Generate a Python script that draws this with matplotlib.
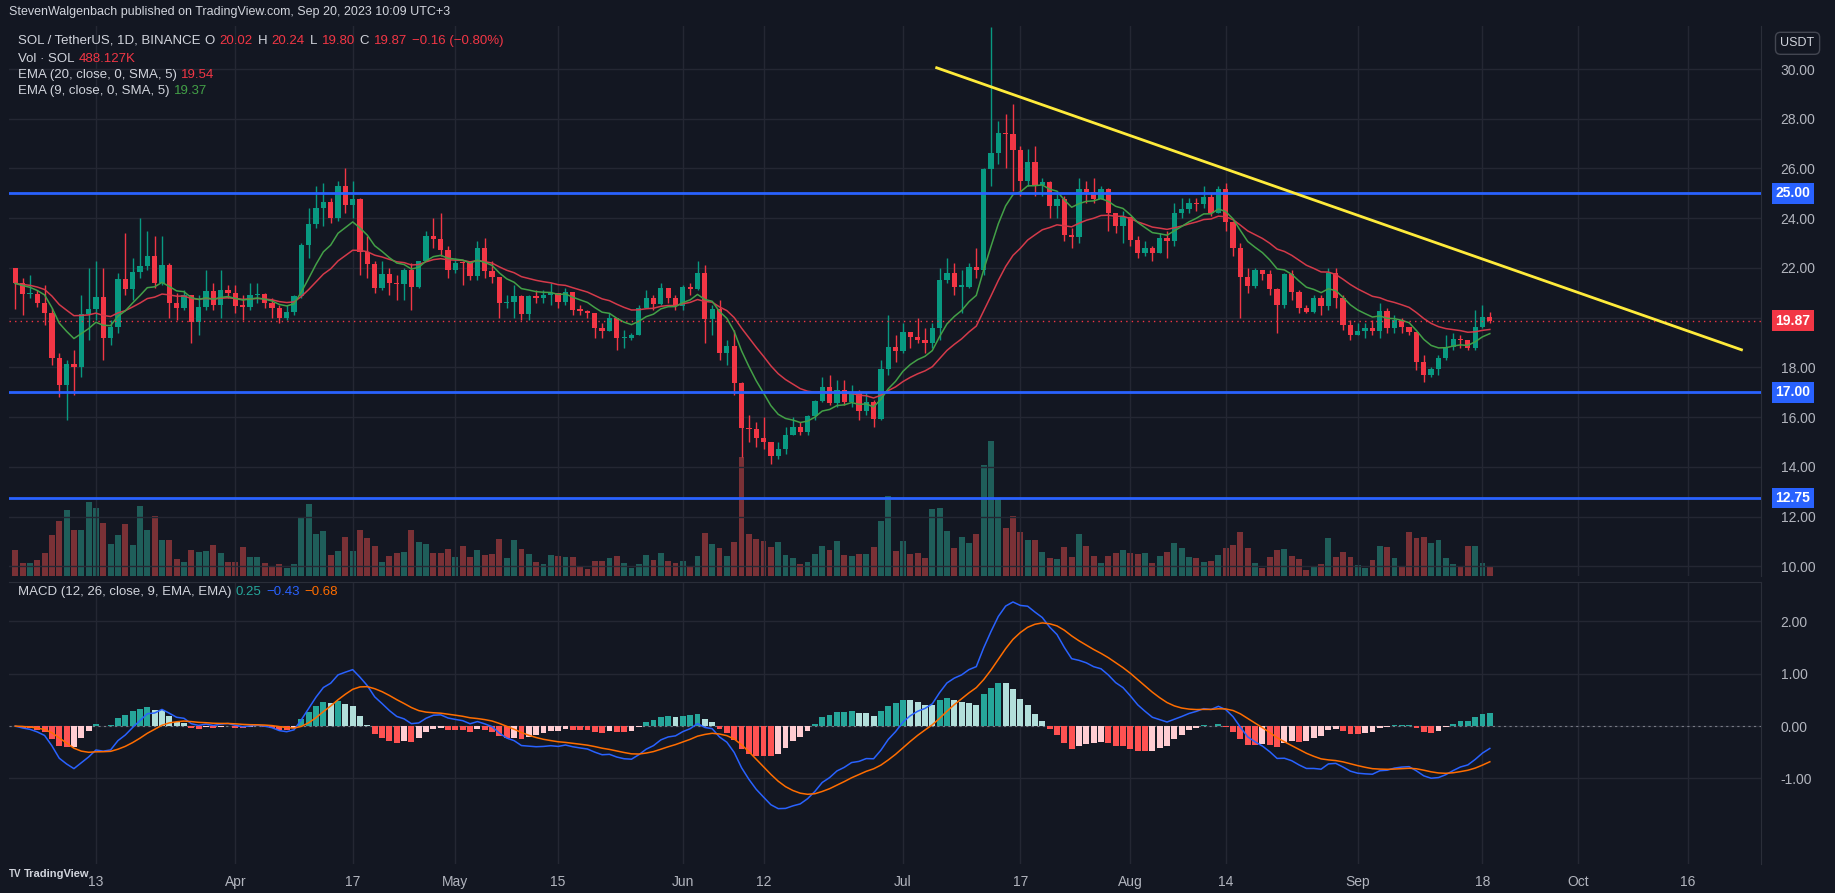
import matplotlib
matplotlib.use("Agg")
import matplotlib.pyplot as plt
import matplotlib.transforms as mtransforms
import numpy as np
import pandas as pd

# ---------------- data (daily candles from 2 Mar 2023, index = days) ----------------
first_open = 21.98
closes = [21.38,20.94,20.95,20.58,20.20,18.36,17.28,18.14,18.00,20.16,
          20.35,20.85,19.20,19.64,21.57,21.14,21.85,22.08,22.48,21.38,
          22.13,20.60,20.37,20.92,19.84,20.44,21.09,20.50,21.10,21.00,
          20.47,20.45,20.90,20.95,20.58,20.38,19.97,20.24,20.88,22.94,
          23.77,24.41,24.66,24.00,25.30,24.53,24.77,22.63,22.16,21.19,
          21.76,21.40,21.35,21.90,21.22,22.30,23.30,23.16,22.72,21.92,
          22.20,22.18,21.69,22.80,21.86,21.62,20.58,20.62,20.88,20.15,
          20.88,20.79,20.92,20.98,20.62,21.03,20.31,20.28,20.20,19.58,
          19.48,19.99,19.18,19.20,19.32,20.39,20.79,20.55,21.20,20.79,
          20.47,21.25,21.15,21.81,19.93,20.36,18.60,18.87,17.36,15.56,
          15.52,15.16,14.99,14.44,14.72,15.28,15.62,15.40,16.06,16.64,
          17.23,16.56,17.10,16.60,16.96,16.23,16.60,15.93,17.94,18.83,
          18.65,19.44,19.21,19.10,18.98,19.60,21.50,21.78,21.25,21.25,
          22.04,21.93,25.99,26.64,27.43,27.39,26.75,25.49,26.28,25.34,
          25.46,24.48,24.77,23.33,23.26,25.16,25.06,24.77,25.16,24.22,
          23.69,24.05,23.12,22.61,22.79,22.61,23.19,23.09,24.20,24.37,
          24.60,24.57,24.87,24.20,25.16,23.84,22.80,21.64,21.29,21.90,
          21.76,21.15,20.53,21.75,21.03,20.39,20.24,20.78,20.49,21.78,
          20.80,19.72,19.32,19.48,19.58,19.48,20.25,19.60,19.90,19.62,
          19.42,18.22,17.70,17.92,18.39,18.82,19.13,19.09,18.80,19.62,
          20.03,19.87]
highs = [22.0,21.6,21.7,21.1,21.3,20.4,18.6,18.3,18.7,20.9,
         22.0,22.3,22.0,19.9,21.8,23.4,22.4,24.0,23.5,23.3,
         23.3,22.2,21.0,21.1,20.9,20.9,21.9,21.4,21.9,21.3,
         21.3,20.9,21.4,21.4,21.0,20.8,20.5,20.5,20.9,23.0,
         24.4,25.3,25.4,24.8,25.5,26.0,25.5,24.8,23.3,22.3,
         22.3,22.0,21.7,22.0,22.2,22.3,23.5,24.0,24.2,22.9,
         22.4,22.3,22.2,23.1,23.2,22.3,21.6,20.9,21.3,20.9,
         20.9,21.1,21.1,21.4,21.0,21.2,21.0,20.5,20.3,20.2,
         19.8,20.2,20.0,19.5,19.4,20.5,21.1,20.9,21.4,21.2,
         20.9,21.3,21.4,22.3,22.1,20.5,20.7,19.1,19.5,17.4,
         16.1,15.8,16.0,15.0,15.0,15.6,16.0,15.8,16.1,16.7,
         17.6,17.7,17.5,17.5,17.3,17.1,17.0,16.7,18.3,20.1,
         19.3,19.8,19.4,20.0,19.6,19.8,22.0,22.4,22.2,21.9,
         22.2,22.8,26.0,31.7,27.9,28.2,28.6,26.9,26.8,26.9,
         25.6,25.5,25.0,24.9,23.6,25.6,25.5,25.6,25.3,25.2,
         24.2,24.3,24.0,23.3,23.1,22.9,23.4,23.5,24.6,24.8,
         24.8,24.8,25.3,25.0,25.3,25.4,23.9,23.0,22.0,22.0,
         21.9,21.9,21.2,21.8,21.9,21.1,20.5,20.9,20.9,22.0,
         22.0,20.9,19.9,19.8,19.8,19.9,20.6,20.4,20.1,20.0,
         19.6,19.4,18.5,18.0,18.5,19.3,19.4,19.3,19.1,20.3,
         20.5,20.24]
lows = [20.35,20.1,20.8,20.45,19.7,18.1,16.8,15.9,16.9,17.6,
        19.1,19.9,18.3,18.9,19.4,20.9,20.7,21.6,21.9,21.2,
        21.3,20.0,19.9,20.3,19.0,19.3,20.3,20.3,20.0,20.8,
        20.2,19.9,20.3,20.6,20.4,20.0,19.8,19.9,20.1,20.8,
        22.4,23.6,23.7,23.8,23.9,24.2,24.0,21.7,21.6,21.0,
        21.1,20.9,20.7,20.7,20.3,21.2,22.3,22.8,22.5,21.6,
        21.8,21.3,21.5,21.5,21.6,21.4,20.0,20.4,20.0,19.9,
        19.9,20.6,20.6,20.5,20.4,20.5,20.1,20.1,20.0,19.2,
        19.2,19.5,18.7,18.8,19.1,19.3,20.4,20.3,20.5,20.6,
        20.3,20.3,20.9,21.1,19.0,19.3,18.3,18.1,16.9,14.4,
        15.0,14.8,14.7,14.1,14.3,14.5,15.3,15.3,15.3,15.9,
        16.6,16.5,16.4,16.5,16.4,15.9,16.1,15.6,15.9,17.7,
        18.2,18.6,18.8,19.0,18.6,18.8,19.1,21.4,20.9,20.2,
        21.2,21.6,21.7,25.3,26.2,26.0,25.1,24.9,25.3,24.9,
        24.9,24.0,24.0,23.1,22.8,23.0,24.6,24.6,24.8,23.5,
        23.4,23.0,22.9,22.4,22.5,22.3,22.8,22.4,22.9,24.0,
        24.2,24.3,24.4,24.1,24.3,23.5,22.5,20.0,21.0,21.2,
        21.5,20.9,19.4,20.4,20.7,20.2,20.2,20.2,20.1,20.3,
        20.4,19.5,19.1,19.3,19.2,19.3,19.2,19.4,19.4,19.4,
        19.3,17.9,17.4,17.6,17.7,18.3,18.7,18.8,18.7,18.7,
        19.6,19.80]
volumes = [78,40,40,48,70,126,168,201,141,141,225,207,162,96,126,159,93,213,141,183,
           108,108,51,42,78,72,75,93,69,42,42,87,57,57,39,27,36,24,36,177,
           219,129,138,63,75,120,75,141,117,90,42,60,69,72,141,102,96,69,69,81,
           57,90,
           57,78,63,66,114,54,108,81,66,42,36,63,60,57,57,27,21,45,45,54,
           60,39,24,36,63,48,69,45,39,45,27,60,132,96,84,60,102,363,129,111,
           105,87,102,63,54,36,42,66,90,78,105,63,60,66,66,87,168,243,75,105,
           66,69,
           55,205,207,138,85,120,99,129,340,411,235,145,183,135,108,108,72,55,51,87,
           58,129,90,60,39,60,70,78,70,66,70,40,60,72,99,85,57,55,42,45,
           63,85,93,135,85,40,25,57,78,81,60,51,18,27,36,115,57,72,57,33,
           25,48,90,
           87,54,28,134,115,118,99,108,54,37,28,91,91,40,30]

tick_pos = [11, 30, 46, 60, 74, 91, 102, 121, 137, 152, 165, 183, 200, 213, 228]
tick_labels = ["13", "Apr", "17", "May", "15", "Jun", "12", "Jul", "17", "Aug", "14", "Sep", "18", "Oct", "16"]
price_ticks = [10, 12, 14, 16, 18, 22, 24, 26, 28, 30]
levels = [25.00, 17.00, 12.75]
last_price = 19.87
trend_x = [125.6, 235.3]
trend_y = [30.05, 18.71]

# ---------------- derived ----------------
n = len(closes)
x = np.arange(n)
c = np.array(closes)
o = np.array([first_open] + closes[:-1])
h = np.maximum(np.array(highs), np.maximum(o, c))
l = np.minimum(np.array(lows), np.minimum(o, c))
up = c >= o
s = pd.Series(c)
ema20 = s.ewm(span=20, adjust=False).mean().values
ema9 = s.ewm(span=9, adjust=False).mean().values
macd = (s.ewm(span=12, adjust=False).mean() - s.ewm(span=26, adjust=False).mean())
signal = macd.ewm(span=9, adjust=False).mean()
hist = (macd - signal).values
macd = macd.values
signal = signal.values

BG = "#131722"
GRID = "#242733"
TXT = "#b2b5be"
GREEN = "#089981"
RED = "#f23645"

W, H = 1568.0, 763.0
def rect(x0, y0, x1, y1):
    return [x0 / W, 1 - y1 / H, (x1 - x0) / W, (y1 - y0) / H]

plt.rcParams["font.family"] = "Liberation Sans"
fig = plt.figure(figsize=(18.35, 8.93), dpi=100, facecolor=BG)

xlim = (-0.8, 238)

axv = fig.add_axes(rect(8, 22, 1505, 492))
axv.set_facecolor(BG)
axv.bar(x[up], np.array(volumes)[up], width=0.8, color="#1f5e5a", zorder=2)
axv.bar(x[~up], np.array(volumes)[~up], width=0.8, color="#7a3136", zorder=2)
axv.set_ylim(0, 1680)
axv.set_xlim(*xlim)
axv.axis("off")

ax = fig.add_axes(rect(8, 22, 1505, 492))
ax.patch.set_alpha(0)
ax.set_xlim(*xlim)
ax.set_ylim(9.62, 31.74)
ax.set_yticks(price_ticks)
ax.set_yticks([20], minor=True)
ax.set_xticks(tick_pos)
ax.grid(True, which="both", color=GRID, lw=1, zorder=0)
ax.yaxis.tick_right()
ax.tick_params(axis="y", which="both", colors=TXT, length=0, pad=14, labelsize=10)
ax.tick_params(axis="x", length=0, labelbottom=False)
ax.yaxis.set_major_formatter(matplotlib.ticker.FormatStrFormatter("%.2f"))
ax.yaxis.set_minor_formatter(matplotlib.ticker.NullFormatter())
for sp in ax.spines.values():
    sp.set_visible(False)
ax.spines["right"].set_visible(True)
ax.spines["right"].set_color("#2a2e39")

ax.vlines(x, l, h, colors=np.where(up, GREEN, RED), lw=1, zorder=3)
body_lo = np.minimum(o, c)
body_h = np.maximum(np.abs(c - o), 0.05)
ax.bar(x, body_h, bottom=body_lo, width=0.72, color=np.where(up, GREEN, RED), zorder=4)
ax.plot(x, ema20, color="#d43a4a", lw=1.1, zorder=5)
ax.plot(x, ema9, color="#43a047", lw=1.1, zorder=5)
for lv in levels:
    ax.axhline(lv, color="#2962ff", lw=2, zorder=6)
ax.axhline(last_price, color=RED, lw=1, ls=(0, (1, 3)), zorder=6)
ax.plot(trend_x, trend_y, color="#ffeb3b", lw=2, zorder=7)

trans = mtransforms.blended_transform_factory(ax.transAxes, ax.transData)
for lv in levels:
    ax.text(1.008, lv, f"{lv:.2f}", transform=trans, color="white", fontsize=10, fontweight="bold",
            va="center", ha="left",
            bbox=dict(boxstyle="square,pad=0.25", fc="#2962ff", ec="none"))
ax.text(1.008, last_price, f"{last_price:.2f}", transform=trans, color="white", fontsize=10,
        fontweight="bold", va="center", ha="left",
        bbox=dict(boxstyle="square,pad=0.25", fc=RED, ec="none"))
fig.text(1536 / W, 1 - 37 / H, "USDT", color="#d1d4dc", fontsize=9, ha="center", va="center",
         bbox=dict(boxstyle="round,pad=0.4", fc=BG, ec="#434651"))

axm = fig.add_axes(rect(8, 497, 1505, 738))
axm.set_facecolor(BG)
axm.set_xlim(*xlim)
axm.set_ylim(-2.63, 2.76)
axm.set_yticks([-1, 0, 1, 2])
axm.set_xticks(tick_pos)
axm.set_xticklabels(tick_labels)
axm.grid(True, color=GRID, lw=1, zorder=0)
axm.yaxis.tick_right()
axm.tick_params(axis="y", colors=TXT, length=0, pad=14, labelsize=10)
axm.tick_params(axis="x", colors=TXT, length=0, pad=8, labelsize=10)
axm.yaxis.set_major_formatter(matplotlib.ticker.FormatStrFormatter("%.2f"))
for sp in axm.spines.values():
    sp.set_visible(False)
axm.spines["right"].set_visible(True)
axm.spines["right"].set_color("#2a2e39")
axm.spines["top"].set_visible(True)
axm.spines["top"].set_color("#2a2e39")
prev = np.concatenate([[hist[0]], hist[:-1]])
hcol = np.where(hist >= 0, np.where(hist >= prev, "#26a69a", "#b2dfdb"),
                np.where(hist < prev, "#ff5252", "#ffcdd2"))
axm.bar(x, hist, width=0.8, color=hcol, zorder=3)
axm.plot(x, macd, color="#2962ff", lw=1.1, zorder=4)
axm.plot(x, signal, color="#ff6d00", lw=1.1, zorder=4)
axm.axhline(0, color="#787b86", lw=0.8, ls=(0, (2, 3)), zorder=2)

renderer = fig.canvas.get_renderer()
def chain(x0, y0, parts, size=9.5):
    xf = x0 / W
    for s_, col in parts:
        t = fig.text(xf, 1 - y0 / H, s_, color=col, fontsize=size, va="center", ha="left")
        bb = t.get_window_extent(renderer)
        xf = bb.x1 / fig.bbox.width + 4 / W

GT = "#d1d4dc"
fig.text(8 / W, 1 - 10 / H, "StevenWalgenbach published on TradingView.com, Sep 20, 2023 10:09 UTC+3",
         color=GT, fontsize=9, va="center")
chain(15, 35, [("SOL / TetherUS, 1D, BINANCE", GT), ("O", GT), ("20.02", RED), ("H", GT), ("20.24", RED),
               ("L", GT), ("19.80", RED), ("C", GT), ("19.87", RED), ("\u22120.16 (\u22120.80%)", RED)])
chain(15, 50, [("Vol \u00b7 SOL", GT), ("488.127K", RED)])
chain(15, 64, [("EMA (20, close, 0, SMA, 5)", GT), ("19.54", RED)])
chain(15, 78, [("EMA (9, close, 0, SMA, 5)", GT), ("19.37", "#43a047")])
chain(15, 506, [("MACD (12, 26, close, 9, EMA, EMA)", GT), ("0.25", "#26a69a"), ("\u22120.43", "#2962ff"),
                ("\u22120.68", "#ff6d00")])
fig.text(8 / W, 1 - 747 / H, "TV", color=GT, fontsize=7, fontweight="bold", va="center")
fig.text(20 / W, 1 - 747 / H, "TradingView", color=GT, fontsize=8, fontweight="bold", va="center")

fig.savefig("out.png", dpi=100, facecolor=BG)
